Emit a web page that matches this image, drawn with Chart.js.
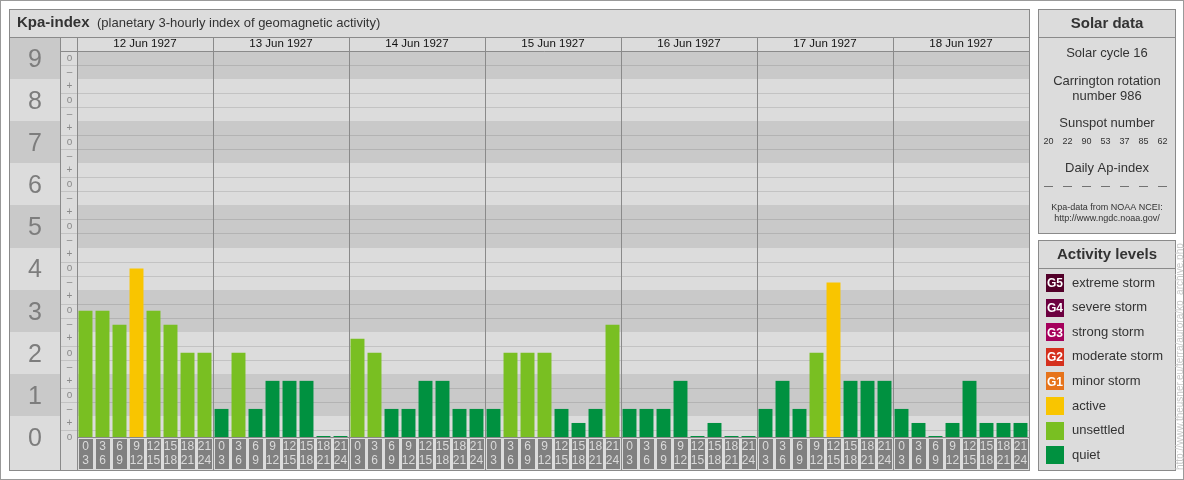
<!DOCTYPE html>
<html>
<head>
<meta charset="utf-8">
<title>Kpa-index</title>
<script src="https://cdn.jsdelivr.net/npm/chart.js@4/dist/chart.umd.min.js"></script>
<style>
  html, body { margin: 0; padding: 0; background: #fff; }
  canvas { display: block; }
</style>
</head>
<body>
<canvas id="kp" width="1184" height="480"></canvas>
<script>
// ---- data ----
const days = ['12 Jun 1927', '13 Jun 1927', '14 Jun 1927', '15 Jun 1927', '16 Jun 1927', '17 Jun 1927', '18 Jun 1927'];
const slotStart = ['0', '3', '6', '9', '12', '15', '18', '21'];
const slotEnd = ['3', '6', '9', '12', '15', '18', '21', '24'];

// Kp in thirds notation, one array per day (3-hour intervals)
const kpJun12 = ['3o', '3o', '3-', '4o', '3o', '3-', '2o', '2o'];
const kpJun13 = ['1-', '2o', '1-', '1+', '1+', '1+', '0o', '0o'];
const kpJun14 = ['2+', '2o', '1-', '1-', '1+', '1+', '1-', '1-'];
const kpJun15 = ['1-', '2o', '2o', '2o', '1-', '0+', '1-', '3-'];
const kpJun16 = ['1-', '1-', '1-', '1+', '0o', '0+', '0o', '0o'];
const kpJun17 = ['1-', '1+', '1-', '2o', '4-', '1+', '1+', '1+'];
const kpJun18 = ['1-', '0+', '0o', '0+', '1+', '0+', '0+', '0+'];

const sunspotNumbers = [20, 22, 90, 53, 37, 85, 62];
const dailyAp = ['—', '—', '—', '—', '—', '—', '—'];
const solarCycle = 16;
const carringtonRotation = 986;

const majorTicks = ['0', '1', '2', '3', '4', '5', '6', '7', '8', '9'];

const activityLevels = [
  { code: 'G5', name: 'extreme storm', color: '#520029' },
  { code: 'G4', name: 'severe storm', color: '#6c0040' },
  { code: 'G3', name: 'strong storm', color: '#a5005c' },
  { code: 'G2', name: 'moderate storm', color: '#d5301d' },
  { code: 'G1', name: 'minor storm', color: '#e6731b' },
  { code: '', name: 'active', color: '#f9c500' },
  { code: '', name: 'unsettled', color: '#79bf22' },
  { code: '', name: 'quiet', color: '#009140' }
];

// ---- helpers ----
function kpToNumber(s) {
  const base = parseInt(s[0], 10);
  const mod = s[1];
  return base + (mod === '+' ? 1 / 3 : mod === '-' ? -1 / 3 : 0);
}
function levelColor(v) {
  if (v >= 8.5) return activityLevels[0].color;
  if (v >= 7.5) return activityLevels[1].color;
  if (v >= 6.5) return activityLevels[2].color;
  if (v >= 5.5) return activityLevels[3].color;
  if (v >= 4.5) return activityLevels[4].color;
  if (v >= 3.5) return activityLevels[5].color;
  if (v >= 1.5) return activityLevels[6].color;
  return activityLevels[7].color;
}

const kpStrings = [].concat(kpJun12, kpJun13, kpJun14, kpJun15, kpJun16, kpJun17, kpJun18);
const kpValues = kpStrings.map(kpToNumber);
const labels = [];
days.forEach(d => slotStart.forEach((s, i) => labels.push(d + ' ' + s + '-' + slotEnd[i])));

const FONT = '"Liberation Sans", Arial, sans-serif';
const LIGHT = '#dcdcdc';
const DARK = '#c9c9c9';
const LINE = '#8a8a8a';
const Y_MAX = 9 + 1 / 6;

// ---- panels, bands, labels drawn around the plot area ----
const framePlugin = {
  id: 'kpFrame',
  beforeDatasetsDraw(chart) {
    const ctx = chart.ctx;
    const area = chart.chartArea;
    const xs = chart.scales.x;
    const ys = chart.scales.y;
    const yp = v => Math.round(ys.getPixelForValue(v));
    const meta = chart.getDatasetMeta(0);
    const slotW = xs.width / labels.length;

    const L = 9, R = 1029, T = 9, B = 470, HEAD = 37;
    const COL1 = 60, COL2 = Math.round(area.left);
    const gTop = Math.round(area.top), gBot = Math.round(area.bottom);

    ctx.save();
    // page
    ctx.fillStyle = '#fff';
    ctx.fillRect(0, 0, chart.width, chart.height);
    ctx.strokeStyle = '#9a9a9a';
    ctx.lineWidth = 1;
    ctx.strokeRect(0.5, 0.5, chart.width - 1, chart.height - 1);

    // main panel
    ctx.fillStyle = LIGHT;
    ctx.fillRect(L, T, R - L, B - T);

    // value bands (plot + big-label column)
    for (let n = 0; n <= 9; n++) {
      const lo = Math.max(0, n - 0.5), hi = Math.min(Y_MAX, n + 0.5);
      const color = n % 2 === 1 ? DARK : LIGHT;
      ctx.fillStyle = color;
      ctx.fillRect(COL2, yp(hi), R - COL2, yp(lo) - yp(hi));
      const top = n === 9 ? HEAD : yp(n + 0.5);
      const bot = n === 0 ? B : yp(n - 0.5);
      ctx.fillRect(L, top, COL1 - L, bot - top);
    }

    // horizontal grid lines halfway between the thirds (band edges excluded)
    ctx.strokeStyle = 'rgba(0,0,0,0.11)';
    for (let k = 0; k < 28; k++) {
      const v = (2 * k + 1) / 6;
      if (k % 3 === 1) continue;
      const y = yp(v) + 0.5;
      ctx.beginPath();
      ctx.moveTo(COL1, y);
      ctx.lineTo(R, y);
      ctx.stroke();
    }

    // major tick labels
    ctx.fillStyle = '#7d7d7d';
    ctx.textAlign = 'center';
    ctx.textBaseline = 'middle';
    ctx.font = '25px ' + FONT;
    majorTicks.forEach((t, n) => ctx.fillText(t, (L + COL1) / 2 + 0.5, ys.getPixelForValue(n) + 2));

    // +/o/- sub labels
    ctx.font = '10px ' + FONT;
    ctx.fillStyle = '#8a8a8a';
    majorTicks.forEach((t, n) => {
      const subs = [['-', n - 1 / 3], ['o', n], ['+', n + 1 / 3]];
      subs.forEach(([s, v]) => {
        if (v < -0.01 || v > 9.01) return;
        ctx.fillText(s === '-' ? '–' : s, (COL1 + COL2) / 2 + 1, ys.getPixelForValue(v));
      });
    });

    // header
    ctx.textAlign = 'left';
    ctx.fillStyle = '#333';
    ctx.font = 'bold 15px ' + FONT;
    ctx.fillText('Kpa-index', 17, 23);
    ctx.font = '13px ' + FONT;
    ctx.fillText('(planetary 3-hourly index of geomagnetic activity)', 97, 23);

    // date labels
    ctx.textAlign = 'center';
    ctx.fillStyle = '#111';
    ctx.font = '11.5px ' + FONT;
    days.forEach((d, i) => {
      const x0 = xs.getPixelForValue(i * 8) - slotW / 2;
      const x1 = xs.getPixelForValue(i * 8 + 7) + slotW / 2;
      ctx.fillText(d, (x0 + x1) / 2, 44);
    });

    // hour labels under the bars
    ctx.font = '12px ' + FONT;
    meta.data.forEach((bar, i) => {
      const w = bar.width;
      const bx = Math.round(bar.x - w / 2);
      ctx.fillStyle = '#808080';
      ctx.fillRect(bx, gBot + 2, Math.round(w), 30);
      ctx.fillStyle = '#dadada';
      ctx.fillText(slotStart[i % 8], bar.x, gBot + 10);
      ctx.fillText(slotEnd[i % 8], bar.x, gBot + 24);
    });

    // lines
    ctx.strokeStyle = LINE;
    ctx.beginPath();
    ctx.moveTo(L, HEAD + 0.5); ctx.lineTo(R, HEAD + 0.5);
    ctx.moveTo(COL1, gTop + 0.5); ctx.lineTo(R, gTop + 0.5);
    ctx.moveTo(COL2, gBot + 0.5); ctx.lineTo(R, gBot + 0.5);
    ctx.moveTo(COL1 + 0.5, HEAD); ctx.lineTo(COL1 + 0.5, B);
    for (let i = 0; i <= days.length; i++) {
      const x = Math.round(xs.getPixelForValue(i * 8) - slotW / 2) + 0.5;
      ctx.moveTo(x, HEAD); ctx.lineTo(x, B);
    }
    ctx.stroke();
    ctx.strokeRect(L + 0.5, T + 0.5, R - L, B - T);

    // solar data panel
    const PL = 1038, PR = 1175;
    const cx = (PL + PR) / 2 + 0.5;
    ctx.fillStyle = LIGHT;
    ctx.fillRect(PL, T, PR - PL, 233 - T);
    ctx.strokeStyle = LINE;
    ctx.strokeRect(PL + 0.5, T + 0.5, PR - PL, 233 - T);
    ctx.beginPath(); ctx.moveTo(PL, HEAD + 0.5); ctx.lineTo(PR, HEAD + 0.5); ctx.stroke();
    ctx.fillStyle = '#333';
    ctx.font = 'bold 15px ' + FONT;
    ctx.fillText('Solar data', cx, 24);
    ctx.font = '13px ' + FONT;
    ctx.fillText('Solar cycle ' + solarCycle, cx, 53);
    ctx.fillText('Carrington rotation', cx, 81);
    ctx.fillText('number ' + carringtonRotation, cx, 96);
    ctx.fillText('Sunspot number', cx, 123);
    ctx.fillText('Daily Ap-index', cx, 168);
    ctx.font = '9px ' + FONT;
    sunspotNumbers.forEach((s, i) => ctx.fillText(String(s), 1048.5 + i * 19, 142));
    dailyAp.forEach((s, i) => ctx.fillText(s, 1048.5 + i * 19, 187));
    ctx.fillText('Kpa-data from NOAA NCEI:', cx, 208);
    ctx.fillText('http://www.ngdc.noaa.gov/', cx, 219);

    // activity levels panel
    const AT = 240;
    ctx.fillStyle = LIGHT;
    ctx.fillRect(PL, AT, PR - PL, B - AT);
    ctx.strokeStyle = LINE;
    ctx.strokeRect(PL + 0.5, AT + 0.5, PR - PL, B - AT);
    ctx.beginPath(); ctx.moveTo(PL, 268.5); ctx.lineTo(PR, 268.5); ctx.stroke();
    ctx.fillStyle = '#333';
    ctx.font = 'bold 15px ' + FONT;
    ctx.fillText('Activity levels', cx, 255);
    activityLevels.forEach((a, i) => {
      const cy = 283 + i * 24.6;
      ctx.fillStyle = a.color;
      ctx.fillRect(1046, Math.round(cy - 9), 18, 18);
      if (a.code) {
        ctx.fillStyle = '#fff';
        ctx.font = 'bold 12px ' + FONT;
        ctx.textAlign = 'center';
        ctx.fillText(a.code, 1055, cy + 1);
      }
      ctx.fillStyle = '#333';
      ctx.font = '13px ' + FONT;
      ctx.textAlign = 'left';
      ctx.fillText(a.name, 1072, cy);
    });

    // source url, rotated
    ctx.save();
    ctx.translate(1180, 470);
    ctx.rotate(-Math.PI / 2);
    ctx.textAlign = 'left';
    ctx.fillStyle = '#c8c8c8';
    ctx.font = '10px ' + FONT;
    ctx.fillText('http://www.theusner.eu/terra/aurora/kp_archive.php', 0, 0);
    ctx.restore();

    ctx.restore();
  }
};

new Chart(document.getElementById('kp'), {
  type: 'bar',
  data: {
    labels: labels,
    datasets: [{
      data: kpValues,
      backgroundColor: kpValues.map(levelColor),
      borderWidth: 0,
      barPercentage: 0.82,
      categoryPercentage: 1,
      minBarLength: 1
    }]
  },
  options: {
    responsive: false,
    animation: false,
    devicePixelRatio: 1,
    layout: { padding: { left: 77, right: 155, top: 51, bottom: 43 } },
    plugins: { legend: { display: false }, tooltip: { enabled: false } },
    scales: {
      x: { display: false },
      y: { display: false, min: 0, max: Y_MAX }
    }
  },
  plugins: [framePlugin]
});
</script>
</body>
</html>
